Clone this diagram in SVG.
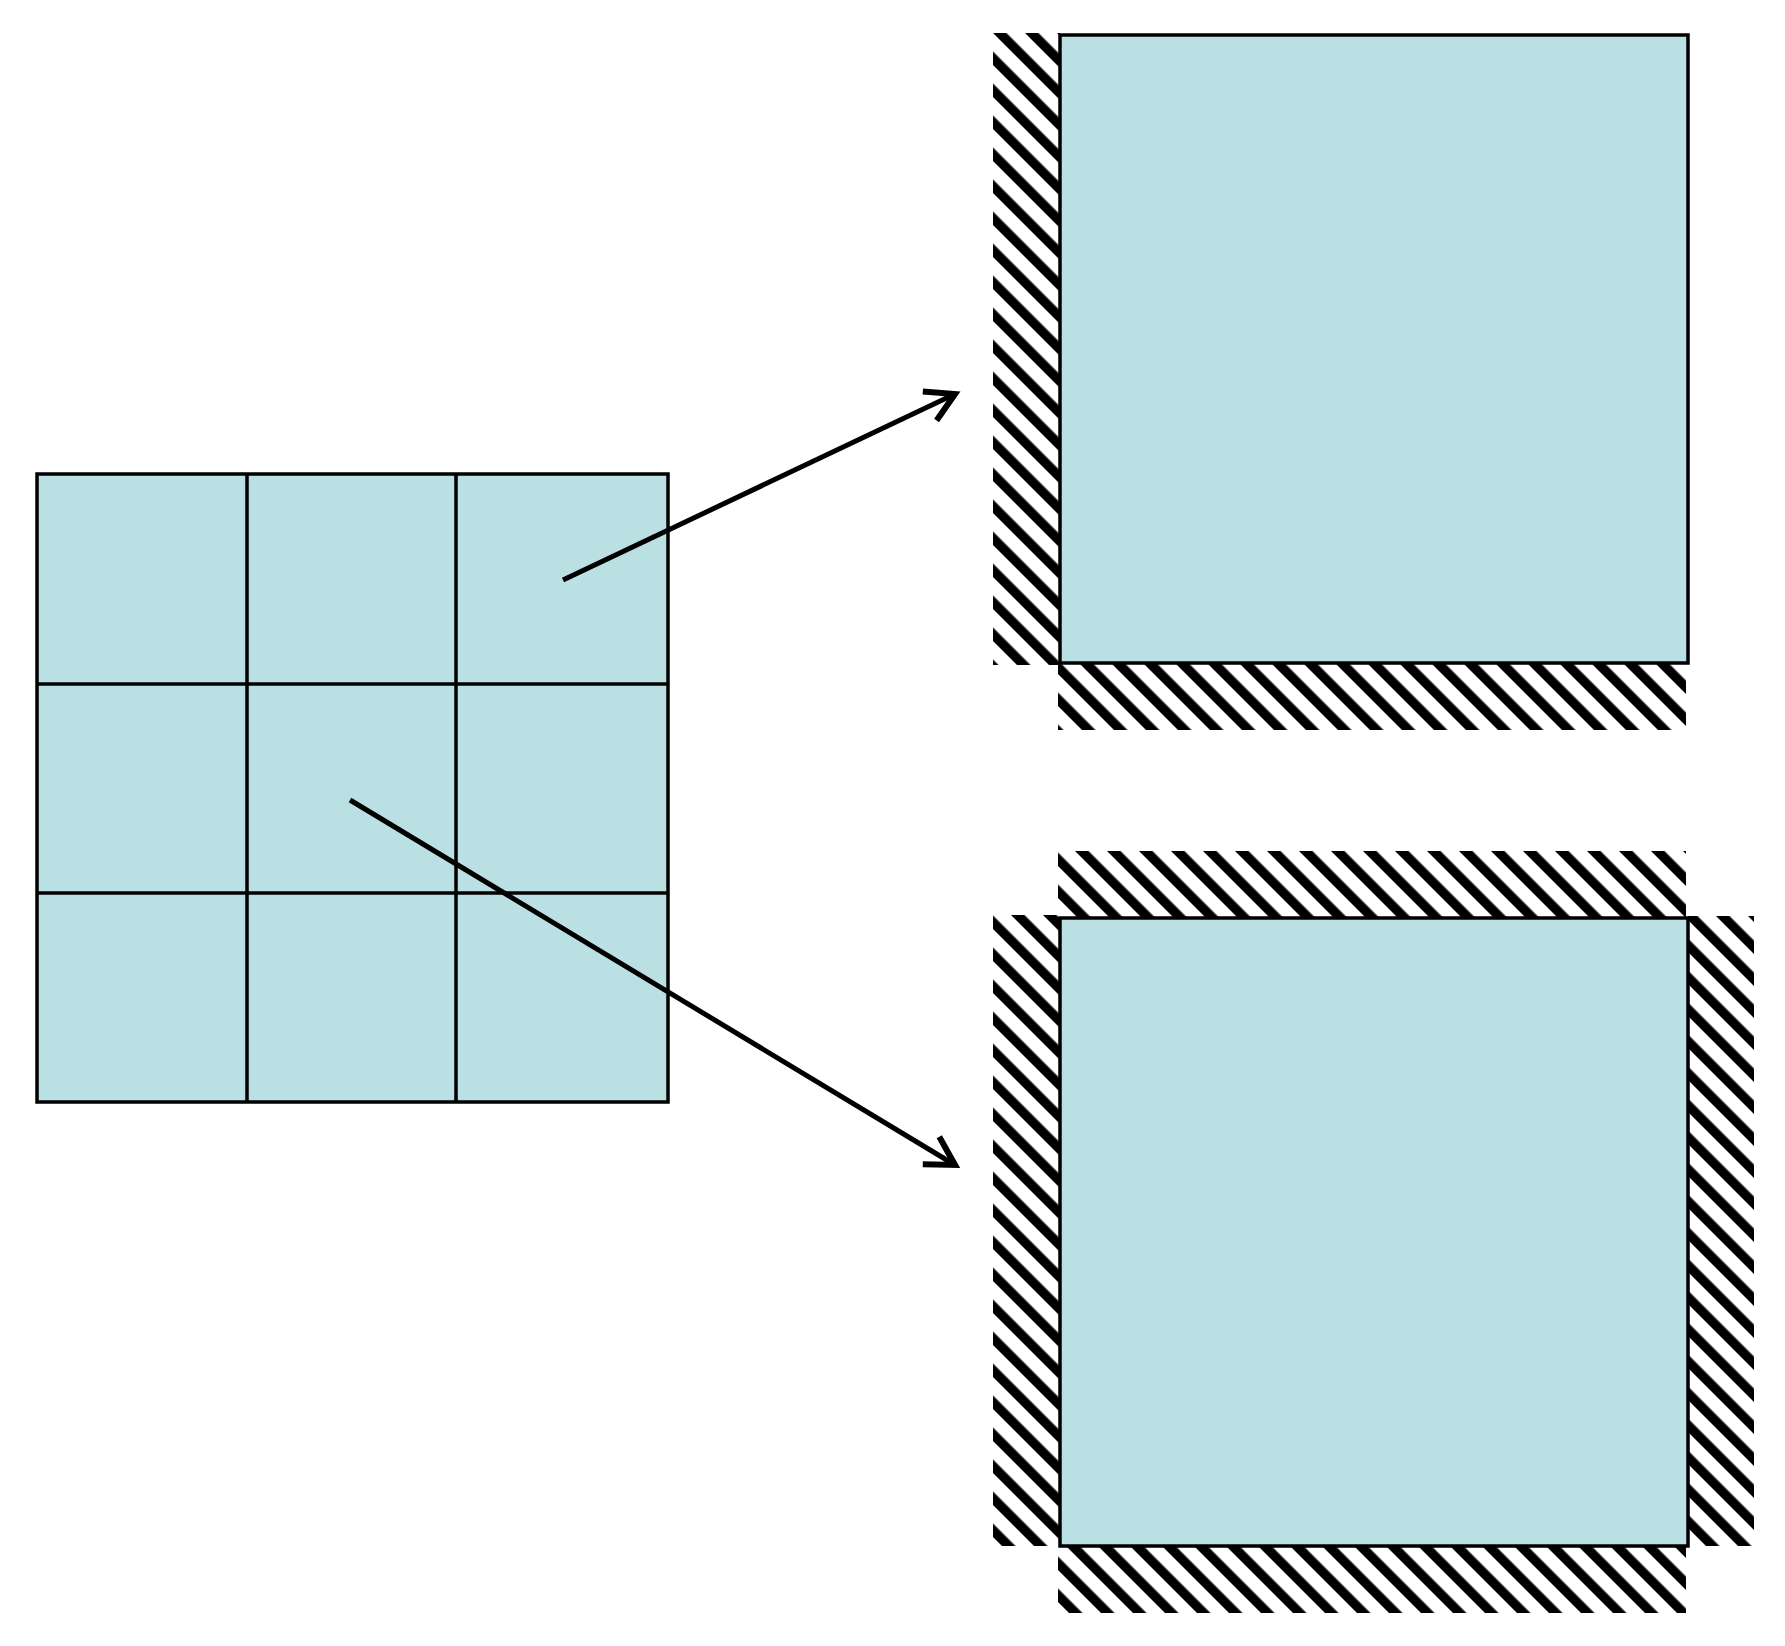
<svg xmlns="http://www.w3.org/2000/svg" width="1785" height="1646" viewBox="0 0 1785 1646">
<style>
.cell{fill:#BBE0E3;stroke:#000;stroke-width:3.5}
.div{stroke:#000;stroke-width:3.5}
.box{fill:#BBE0E3;stroke:#000;stroke-width:3.5}
.hatch{fill:url(#hatch);stroke:none}
.conn{fill:none;stroke:#000;stroke-width:5;marker-end:url(#arrow)}
</style>
<defs>
<pattern id="hatch" patternUnits="userSpaceOnUse" width="22.627" height="22.627" patternTransform="rotate(-45)">
<rect x="0" y="0" width="22.627" height="22.627" fill="#fff"/>
<rect x="0" y="0" width="9.5" height="22.627" fill="#000"/>
</pattern>
<marker id="arrow" markerUnits="userSpaceOnUse" markerWidth="80" markerHeight="80" viewBox="-40 -40 80 80" refX="0" refY="0" orient="auto" overflow="visible">
<path d="M -28 -16 L 0 0 L -28 16" fill="none" stroke="#000" stroke-width="6" stroke-linejoin="miter"/>
</marker>
</defs>
<rect width="1785" height="1646" fill="#fff"/>
<g id="grid">
<rect class="cell" x="37" y="474" width="631" height="628"/>
<line class="div" x1="247" y1="474" x2="247" y2="1102"/>
<line class="div" x1="456" y1="474" x2="456" y2="1102"/>
<line class="div" x1="37" y1="684" x2="668" y2="684"/>
<line class="div" x1="37" y1="893" x2="668" y2="893"/>
</g>
<g id="box-top">
<rect class="hatch" x="993" y="33" width="67" height="632"/>
<rect class="hatch" x="1058" y="663" width="628" height="67"/>
<rect class="box" x="1060" y="35" width="628" height="628"/>
</g>
<g id="box-bottom">
<rect class="hatch" x="1058" y="851" width="628" height="67"/>
<rect class="hatch" x="993" y="915" width="67" height="631"/>
<rect class="hatch" x="1688" y="916" width="66" height="630"/>
<rect class="hatch" x="1058" y="1546" width="628" height="67"/>
<rect class="box" x="1060" y="918" width="628" height="628"/>
</g>
<g id="connectors">
<line class="conn" x1="563" y1="580" x2="955" y2="394"/>
<line class="conn" x1="350" y1="800" x2="955" y2="1165"/>
</g>
</svg>
